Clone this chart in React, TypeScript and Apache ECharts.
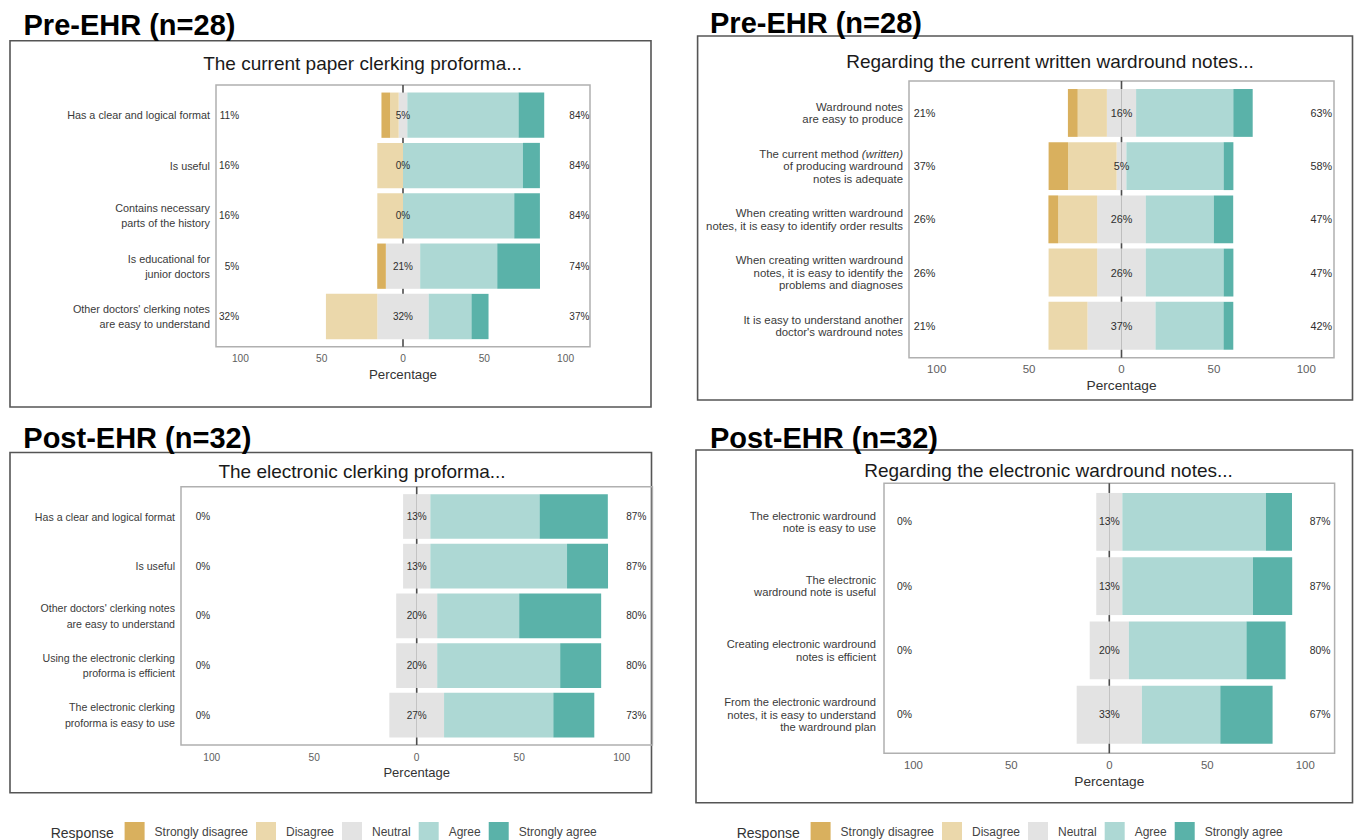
import React, { useEffect, useRef } from "react";
import * as echarts from "echarts";

// ---------- data ----------
const RESPONSES = ["Strongly disagree", "Disagree", "Neutral", "Agree", "Strongly agree"];
const COLORS = ["#D9B05E", "#EBD8AB", "#E3E3E3", "#ADD8D4", "#5AB2A9"];

const TITLES = ["Pre-EHR (n=28)", "Pre-EHR (n=28)", "Post-EHR (n=32)", "Post-EHR (n=32)"];
const SUBTITLES = [
  "The current paper clerking proforma...",
  "Regarding the current written wardround notes...",
  "The electronic clerking proforma...",
  "Regarding the electronic wardround notes...",
];

// Panel 1: pre-EHR clerking proforma
const p1Items = [
  "Has a clear and logical format",
  "Is useful",
  "Contains necessary\nparts of the history",
  "Is educational for\njunior doctors",
  "Other doctors' clerking notes\nare easy to understand",
];
const p1SD = [5.3, 0, 0, 5.3, 0];
const p1D = [5.3, 15.8, 15.8, 0, 31.6];
const p1N = [5.3, 0, 0, 21.1, 31.6];
const p1A = [68.4, 73.7, 68.4, 47.4, 26.3];
const p1SA = [15.8, 10.5, 15.8, 26.3, 10.5];

// Panel 2: pre-EHR wardround notes
const p2Items = [
  "Wardround notes\nare easy to produce",
  "The current method (written)\nof producing wardround\nnotes is adequate",
  "When creating written wardround\nnotes, it is easy to identify order results",
  "When creating written wardround\nnotes, it is easy to identify the\nproblems and diagnoses",
  "It is easy to understand another\ndoctor's wardround notes",
];
const p2SD = [5.3, 10.5, 5.3, 0, 0];
const p2D = [15.8, 26.3, 21.1, 26.3, 21.1];
const p2N = [15.8, 5.3, 26.3, 26.3, 36.8];
const p2A = [52.6, 52.6, 36.8, 42.1, 36.8];
const p2SA = [10.5, 5.3, 10.5, 5.3, 5.3];

// Panel 3: post-EHR electronic clerking proforma
const p3Items = [
  "Has a clear and logical format",
  "Is useful",
  "Other doctors' clerking notes\nare easy to understand",
  "Using the electronic clerking\nproforma is efficient",
  "The electronic clerking\nproforma is easy to use",
];
const p3SD = [0, 0, 0, 0, 0];
const p3D = [0, 0, 0, 0, 0];
const p3N = [13.3, 13.3, 20, 20, 26.7];
const p3A = [53.3, 66.7, 40, 60, 53.3];
const p3SA = [33.3, 20, 40, 20, 20];

// Panel 4: post-EHR electronic wardround notes
const p4Items = [
  "The electronic wardround\nnote is easy to use",
  "The electronic\nwardround note is useful",
  "Creating electronic wardround\nnotes is efficient",
  "From the electronic wardround\nnotes, it is easy to understand\nthe wardround plan",
];
const p4SD = [0, 0, 0, 0];
const p4D = [0, 0, 0, 0];
const p4N = [13.3, 13.3, 20, 33.3];
const p4A = [73.3, 66.7, 60, 40];
const p4SA = [13.3, 20, 20, 26.7];

const X_TICKS = [-100, -50, 0, 50, 100];
const X_NAME = "Percentage";
const LEGEND_TITLE = "Response";

const PANELS = [
  { items: p1Items, sd: p1SD, d: p1D, n: p1N, a: p1A, sa: p1SA },
  { items: p2Items, sd: p2SD, d: p2D, n: p2N, a: p2A, sa: p2SA },
  { items: p3Items, sd: p3SD, d: p3D, n: p3N, a: p3A, sa: p3SA },
  { items: p4Items, sd: p4SD, d: p4D, n: p4N, a: p4A, sa: p4SA },
];

// ---------- layout ----------
const FONT = '"Liberation Sans", Arial, sans-serif';
const LAYOUT = [
  { box: [10, 40.7, 651, 407], plot: [216, 85, 590, 346.7], tX: 23.5, tY: 25, sX: 362.6, sY: 63.3,
    yFont: 10.8, yLine: 15, yMargin: 6, pctFont: 10, tickFont: 10.2, tickMargin: 12.3, nameFont: 13.3, nameGap: 26 },
  { box: [697.6, 36, 1352.5, 400], plot: [909, 81, 1334, 357.7], tX: 710, tY: 22.5, sX: 1050, sY: 61.7,
    yFont: 11.4, yLine: 12.5, yMargin: 6, pctFont: 10.8, tickFont: 11.5, tickMargin: 11, nameFont: 13.7, nameGap: 26 },
  { box: [10, 452.5, 651.5, 792.7], plot: [181, 486.7, 652.4, 745], tX: 23.3, tY: 437.5, sX: 362, sY: 471.7,
    yFont: 10.6, yLine: 15.5, yMargin: 6, pctFont: 10, tickFont: 10.2, tickMargin: 12, nameFont: 13, nameGap: 26 },
  { box: [696, 450, 1352.5, 802.7], plot: [884, 483.3, 1334.6, 753.3], tX: 710, tY: 438, sX: 1048.5, sY: 470,
    yFont: 11.2, yLine: 12.3, yMargin: 8, pctFont: 10.4, tickFont: 11.4, tickMargin: 13, nameFont: 13.7, nameGap: 28 },
];
const LEGEND_LEFTS = [124.6, 810.6];
const LEGEND_TITLE_X = [50.7, 736.7];

const pct = (v: number) => Math.round(v) + "%";

function buildOption() {
  const grid: any[] = [];
  const xAxis: any[] = [];
  const yAxis: any[] = [];
  const series: any[] = [];
  const graphic: any[] = [];

  PANELS.forEach((p, i) => {
    const L = LAYOUT[i];
    const [pl, pt, pr, pb] = L.plot;
    const rows = p.items.length;
    const u = (pb - pt) / (rows + 0.2);
    grid.push({ left: pl, top: pt + 0.1 * u, width: pr - pl, height: rows * u, containLabel: false });

    xAxis.push({
      type: "value",
      gridIndex: i,
      min: -115,
      max: 115,
      axisLine: { show: false },
      axisTick: { show: false },
      splitLine: { show: false },
      axisLabel: {
        customValues: X_TICKS,
        formatter: (v: number) => String(Math.abs(v)),
        color: "#5e5e5e",
        fontSize: L.tickFont,
        fontFamily: FONT,
        margin: L.tickMargin,
      },
      name: X_NAME,
      nameLocation: "middle",
      nameGap: L.nameGap,
      nameTextStyle: { fontSize: L.nameFont, color: "#333", fontFamily: FONT },
    });

    const italic = i === 1;
    yAxis.push({
      type: "category",
      gridIndex: i,
      inverse: true,
      data: p.items,
      axisLine: { show: false },
      axisTick: { show: false },
      splitLine: { show: false },
      axisLabel: {
        color: "#3a3a3a",
        fontSize: L.yFont,
        lineHeight: L.yLine,
        fontFamily: FONT,
        margin: L.yMargin,
        interval: 0,
        ...(italic
          ? {
              formatter: (v: string) => v.replace("(written)", "{it|(written)}"),
              rich: { it: { fontStyle: "italic", fontSize: L.yFont, lineHeight: L.yLine, color: "#3a3a3a", fontFamily: FONT } },
            }
          : {}),
      },
    });

    const stack = "likert" + i;
    const common = {
      type: "bar",
      xAxisIndex: i,
      yAxisIndex: i,
      stack,
      barCategoryGap: "10%",
      silent: true,
      z: 2,
    };
    series.push({ ...common, name: RESPONSES[2], data: p.n.map((v) => -v / 2), itemStyle: { color: COLORS[2] } });
    series.push({ ...common, name: RESPONSES[1], data: p.d.map((v) => -v), itemStyle: { color: COLORS[1] } });
    series.push({ ...common, name: RESPONSES[0], data: p.sd.map((v) => -v), itemStyle: { color: COLORS[0] } });
    series.push({ ...common, name: RESPONSES[2], data: p.n.map((v) => v / 2), itemStyle: { color: COLORS[2] } });
    series.push({ ...common, name: RESPONSES[3], data: p.a, itemStyle: { color: COLORS[3] } });
    series.push({ ...common, name: RESPONSES[4], data: p.sa, itemStyle: { color: COLORS[4] } });

    const labelData: any[] = [];
    p.items.forEach((_, j) => {
      labelData.push({ value: [-100.5, j], label: { position: "left", formatter: pct(p.sd[j] + p.d[j]) } });
      labelData.push({ value: [0, j], label: { position: "inside", formatter: pct(p.n[j]) } });
      labelData.push({ value: [102, j], label: { position: "right", formatter: pct(p.a[j] + p.sa[j]) } });
    });
    series.push({
      type: "scatter",
      name: "labels" + i,
      xAxisIndex: i,
      yAxisIndex: i,
      symbolSize: 1,
      silent: true,
      z: 5,
      itemStyle: { color: "rgba(0,0,0,0)", opacity: 1 },
      label: { show: true, distance: 0, color: "#2e2e2e", opacity: 1, fontSize: L.pctFont, fontFamily: FONT },
      data: labelData,
    });

    // frames, zero line, titles
    const [bx1, by1, bx2, by2] = L.box;
    graphic.push({
      type: "rect",
      z: 0,
      silent: true,
      shape: { x: bx1, y: by1, width: bx2 - bx1, height: by2 - by1 },
      style: { fill: "none", stroke: "#555", lineWidth: 1.6 },
    });
    graphic.push({
      type: "rect",
      z: 0,
      silent: true,
      shape: { x: pl, y: pt, width: pr - pl, height: pb - pt },
      style: { fill: "none", stroke: "#b0b0b0", lineWidth: 1.5 },
    });
    const cx = (pl + pr) / 2;
    graphic.push({
      type: "line",
      z: 0,
      silent: true,
      shape: { x1: cx, y1: pt, x2: cx, y2: pb },
      style: { stroke: "#4d4d4d", lineWidth: 1.6 },
    });
    graphic.push({
      type: "text",
      z: 3,
      x: L.tX,
      y: L.tY,
      style: {
        text: TITLES[i],
        fontSize: 29,
        fontWeight: "bold",
        fontFamily: FONT,
        fill: "#000",
        textAlign: "left",
        align: "left",
        textVerticalAlign: "middle",
        verticalAlign: "middle",
      },
    });
    graphic.push({
      type: "text",
      z: 3,
      x: L.sX,
      y: L.sY,
      style: {
        text: SUBTITLES[i],
        fontSize: 19,
        fontFamily: FONT,
        fill: "#1a1a1a",
        textAlign: "center",
        align: "center",
        textVerticalAlign: "middle",
        verticalAlign: "middle",
      },
    });
  });

  const legend = LEGEND_LEFTS.map((left) => ({
    data: RESPONSES,
    left,
    top: 822,
    orient: "horizontal",
    icon: "rect",
    itemWidth: 20,
    itemHeight: 20,
    itemGap: 8,
    padding: 0,
    selectedMode: false,
    textStyle: { fontSize: 12, color: "#444", fontFamily: FONT, padding: [0, 0, 0, 5] },
  }));

  LEGEND_TITLE_X.forEach((x) => {
    graphic.push({
      type: "text",
      z: 3,
      x,
      y: 833,
      style: {
        text: LEGEND_TITLE,
        fontSize: 14,
        fontFamily: FONT,
        fill: "#333",
        textAlign: "left",
        align: "left",
        textVerticalAlign: "middle",
        verticalAlign: "middle",
      },
    });
  });

  return {
    animation: false,
    backgroundColor: "#fff",
    grid,
    xAxis,
    yAxis,
    series,
    legend,
    graphic,
  };
}

export default function App() {
  const ref = useRef<HTMLDivElement>(null);
  useEffect(() => {
    document.body.style.margin = "0";
    if (!ref.current) return;
    const chart = echarts.init(ref.current, null, { renderer: "svg" });
    chart.setOption(buildOption() as any);
    return () => {
      chart.dispose();
    };
  }, []);
  return <div ref={ref} style={{ width: 1354, height: 840, overflow: "hidden" }} />;
}
